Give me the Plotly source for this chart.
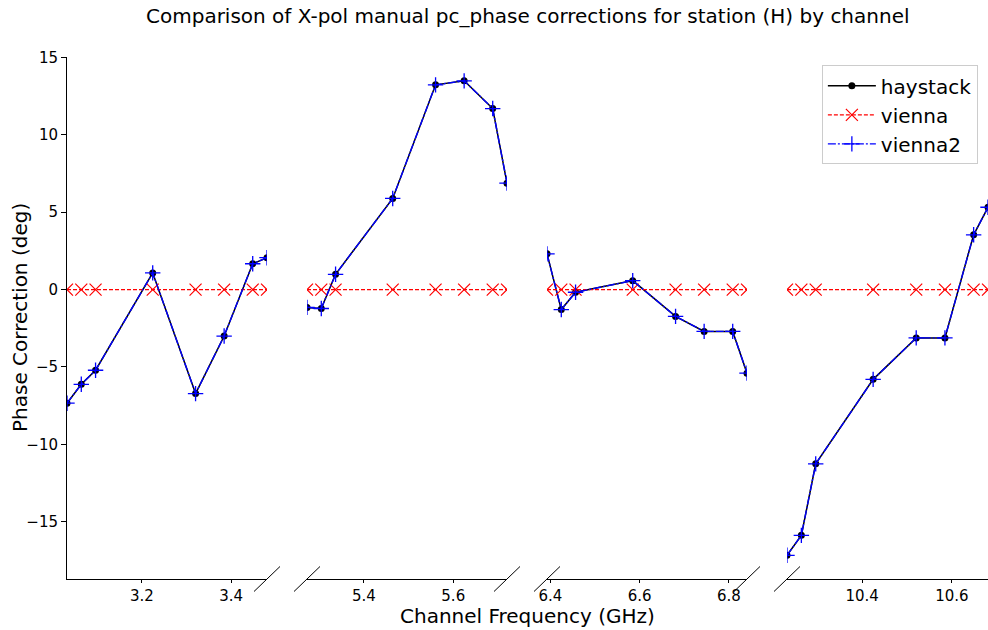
import plotly.graph_objects as go

# ---- data ----
band_freqs = [
    [3.0324, 3.0644, 3.0964, 3.2244, 3.3204, 3.3844, 3.4484, 3.4804],
    [5.2724, 5.3044, 5.3364, 5.4644, 5.5604, 5.6244, 5.6884, 5.7204],
    [6.3924, 6.4244, 6.4564, 6.5844, 6.6804, 6.7444, 6.8084, 6.8404],
    [10.2324, 10.2644, 10.2964, 10.4244, 10.5204, 10.5844, 10.6484, 10.6804],
]
haystack = [
    [-7.34, -6.12, -5.21, 1.08, -6.72, -3.00, 1.67, 2.06],
    [-1.15, -1.22, 0.99, 5.89, 13.23, 13.49, 11.70, 6.88],
    [2.31, -1.29, -0.17, 0.58, -1.73, -2.70, -2.70, -5.40],
    [-17.17, -15.88, -11.26, -5.80, -3.12, -3.12, 3.54, 5.32],
]
vienna = [[0.0] * 8 for _ in range(4)]
vienna2 = [list(v) for v in haystack]
band_ticks = [[3.2, 3.4], [5.4, 5.6], [6.4, 6.6, 6.8], [10.4, 10.6]]
ytick_vals = [-15, -10, -5, 0, 5, 10, 15]
ytick_text = ["\u221215", "\u221210", "\u22125", "0", "5", "10", "15"]

FONT = "DejaVu Sans"
W_PLOT = 921.0
H_PLOT = 521.5
panel_px = [(0, 200), (240, 440), (480, 680), (720, 921)]
domains = [[a / W_PLOT, b / W_PLOT] for a, b in panel_px]

fig = go.Figure()
for i in range(4):
    xa = "x" if i == 0 else f"x{i+1}"
    show = i == 0
    fig.add_trace(go.Scatter(
        x=band_freqs[i], y=haystack[i], mode="lines+markers", name="haystack",
        legendgroup="h", showlegend=show, xaxis=xa, yaxis="y",
        line=dict(color="black", width=1.5),
        marker=dict(symbol="circle", size=7, color="black"),
    ))
    fig.add_trace(go.Scatter(
        x=band_freqs[i], y=vienna[i], mode="lines+markers", name="vienna",
        legendgroup="v", showlegend=show, xaxis=xa, yaxis="y",
        line=dict(color="red", width=1.2, dash="4px,2px"),
        marker=dict(symbol="x-thin", size=12, color="red",
                    line=dict(color="red", width=1.2)),
    ))
    fig.add_trace(go.Scatter(
        x=band_freqs[i], y=vienna2[i], mode="lines+markers", name="vienna2",
        legendgroup="v2", showlegend=show, xaxis=xa, yaxis="y",
        line=dict(color="blue", width=1.4, dash="8px,2px,2px,2px"),
        marker=dict(symbol="cross-thin", size=11, color="blue",
                    line=dict(color="blue", width=1.3)),
    ))

layout = dict(
    width=988, height=630,
    margin=dict(l=67, r=0, t=57, b=51),
    paper_bgcolor="white", plot_bgcolor="white",
    font=dict(family=FONT, size=15, color="black"),
    showlegend=True,
    legend=dict(x=0.989, y=0.984, xanchor="right", yanchor="top",
                bgcolor="rgba(255,255,255,0.8)", bordercolor="#cccccc",
                borderwidth=1, font=dict(size=20, family=FONT),
                itemwidth=48, tracegroupgap=0),
    yaxis=dict(range=[-18.70, 15.03], tickvals=ytick_vals, ticktext=ytick_text,
               showline=True, linecolor="black", linewidth=1,
               ticks="outside", ticklen=5, tickcolor="black",
               showgrid=False, zeroline=False, anchor="x"),
)
for i in range(4):
    key = "xaxis" if i == 0 else f"xaxis{i+1}"
    layout[key] = dict(
        domain=domains[i], range=[band_freqs[i][0], band_freqs[i][-1]],
        tickvals=band_ticks[i], ticktext=[f"{t:.1f}" for t in band_ticks[i]],
        showline=True, linecolor="black", linewidth=1,
        ticks="outside", ticklen=3, tickcolor="black",
        showgrid=False, zeroline=False, anchor="y",
    )
fig.update_layout(**layout)

# break marks
dx = 13 / W_PLOT
dy = 12.5 / H_PLOT
edges = [domains[0][1], domains[1][0], domains[1][1], domains[2][0],
         domains[2][1], domains[3][0]]
for e in edges:
    fig.add_shape(type="line", xref="paper", yref="paper",
                  x0=e - dx, y0=-dy, x1=e + dx, y1=dy,
                  line=dict(color="black", width=1))

fig.add_annotation(text="Channel Frequency (GHz)", xref="paper", yref="paper",
                   x=0.5, y=-(37 / H_PLOT), xanchor="center", yanchor="middle",
                   showarrow=False, font=dict(size=20, family=FONT))
fig.add_annotation(text="Phase Correction (deg)", xref="paper", yref="paper",
                   x=-(47 / W_PLOT), y=0.5, xanchor="center", yanchor="middle",
                   textangle=-90, showarrow=False, font=dict(size=20, family=FONT))
fig.add_annotation(text="Comparison of X-pol manual pc_phase corrections for station (H) by channel",
                   xref="paper", yref="paper", x=0.5, y=1 + (41 / H_PLOT),
                   xanchor="center", yanchor="middle", showarrow=False,
                   font=dict(size=20, family=FONT))

fig.write_html("out.html")
